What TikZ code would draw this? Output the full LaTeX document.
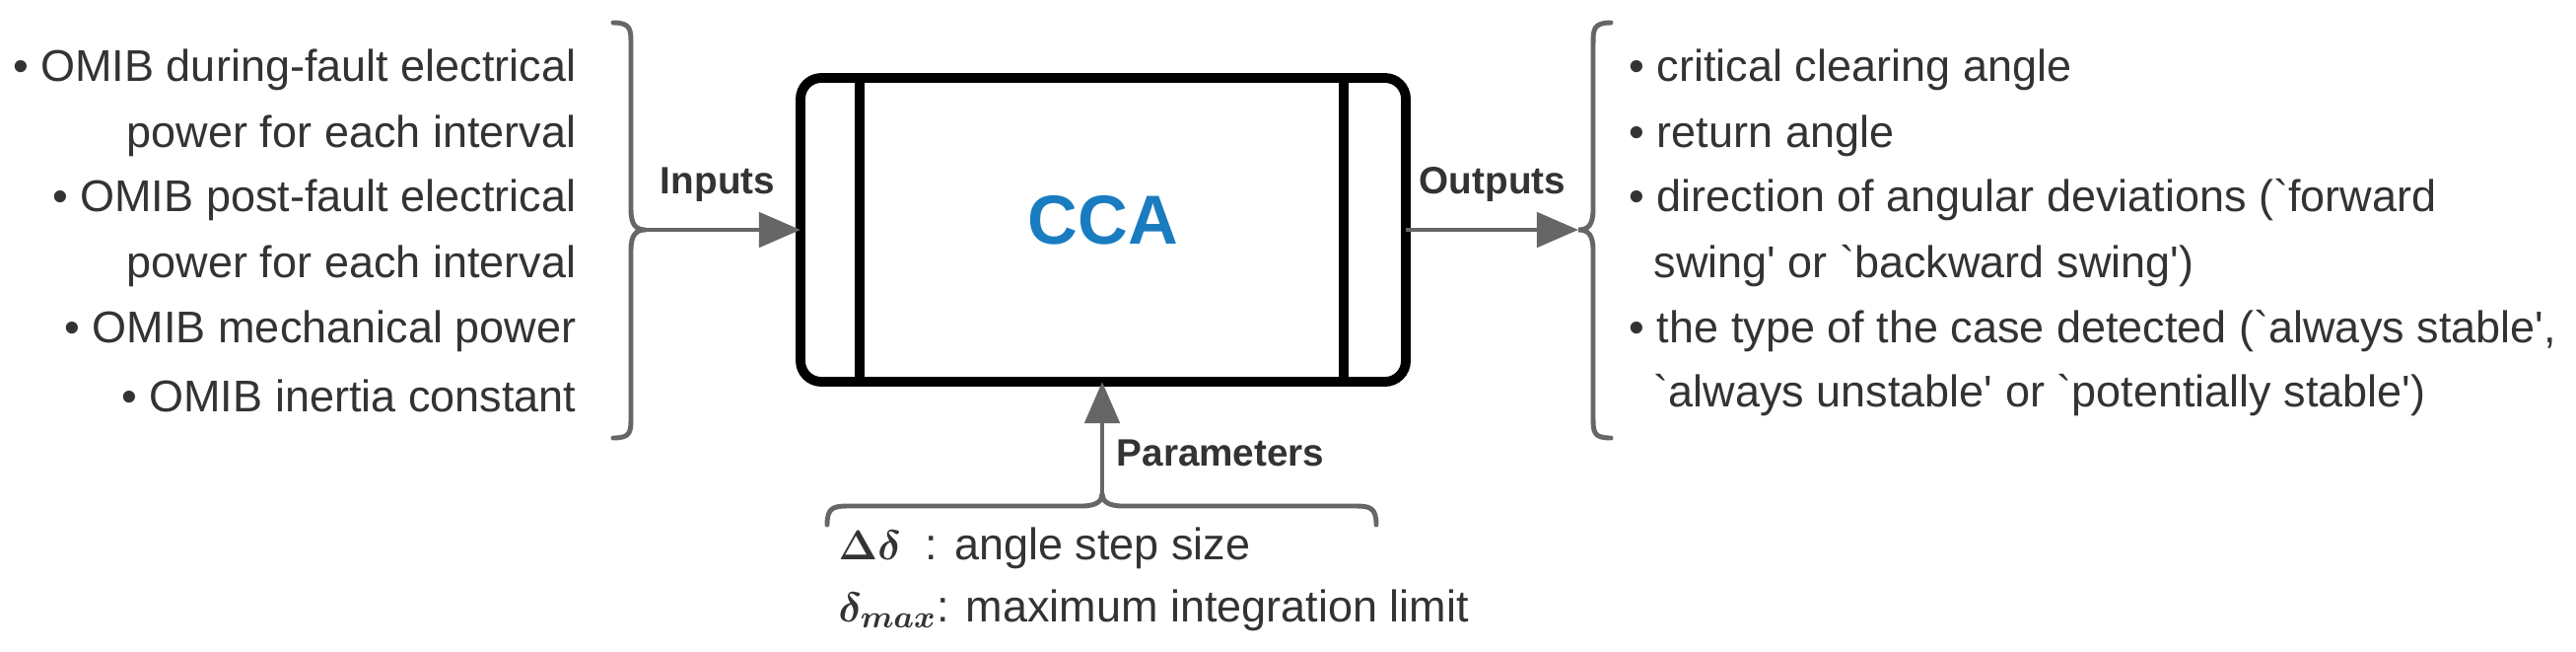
\documentclass[tikz,border=0pt]{standalone}
\usepackage{amsmath}
\usepackage{fontspec}
\setmainfont{Liberation Sans}
\usetikzlibrary{arrows.meta}
\definecolor{txt}{HTML}{333333}
\definecolor{gr}{HTML}{666666}
\definecolor{blu}{HTML}{1A7CC0}
\newcommand{\gq}{\textasciigrave}
\newcommand{\sq}{\textquotesingle}
\begin{document}
\begin{tikzpicture}[x=0.01cm,y=-0.01cm,
  lt/.style={anchor=east,inner sep=0pt,text=txt,font=\fontsize{12.8pt}{15pt}\selectfont},
  rt/.style={anchor=west,inner sep=0pt,text=txt,font=\fontsize{12.8pt}{15pt}\selectfont},
  lab/.style={inner sep=0pt,text=txt,font=\fontsize{11pt}{13pt}\selectfont\bfseries},
  brace/.style={draw=gr,line width=1.4pt,line cap=round},
  arr/.style={draw=gr,line width=1.4pt,-{Triangle[length=12pt,width=10pt]}}]
\useasboundingbox (0,0) rectangle (2613,660);
% box
\draw[line width=2.8pt,rounded corners=6pt] (812,79) rectangle (1426,387);
\draw[line width=2.8pt] (872,79) -- (872,387);
\draw[line width=2.8pt] (1363,79) -- (1363,387);
\node[inner sep=0pt,text=blu,font=\fontsize{20pt}{24pt}\selectfont\bfseries] (cca) at (1119,223) {CCA};
\coordinate (bl) at (812,233);
\coordinate (br) at (1426,233);
\coordinate (bb) at (1118,387);
% left texts
\node[lt] (l1) at (585,71) {\textbullet\ OMIB during-fault electrical};
\node[lt] (l2) at (585,138) {power for each interval};
\node[lt] (l3) at (585,203) {\textbullet\ OMIB post-fault electrical};
\node[lt] (l4) at (585,270) {power for each interval};
\node[lt] (l5) at (585,336) {\textbullet\ OMIB mechanical power};
\node[lt] (l6) at (585,401) {\textbullet\ OMIB inertia constant};
% left brace
\coordinate (lt) at (655,233);
\draw[brace] (622,23) .. controls (640,23) and (640,30) .. (640,45) -- (640,212)
  .. controls (640,228) and (645,233) .. (lt) .. controls (645,233) and (640,238) .. (640,254)
  -- (640,422) .. controls (640,438) and (640,444) .. (622,444);
\draw[arr] (lt) -- (bl);
\node[lab] (inp) at (728,187) {Inputs};
% right brace
\coordinate (rtip) at (1601,233);
\draw[brace] (1634,23) .. controls (1616,23) and (1616,30) .. (1616,45) -- (1616,212)
  .. controls (1616,228) and (1611,233) .. (rtip) .. controls (1611,233) and (1616,238) .. (1616,254)
  -- (1616,422) .. controls (1616,438) and (1616,444) .. (1634,444);
\draw[arr] (br) -- (rtip);
\node[lab] (outp) at (1514,187) {Outputs};
% right texts
\node[rt] (r1) at (1652,71) {\textbullet\ critical clearing angle};
\node[rt] (r2) at (1652,138) {\textbullet\ return angle};
\node[rt] (r3) at (1652,203) {\textbullet\ direction of angular deviations (\gq forward};
\node[rt] (r4) at (1677,270) {swing\sq{} or \gq backward swing\sq)};
\node[rt] (r5) at (1652,336) {\textbullet\ the type of the case detected (\gq always stable\sq,};
\node[rt] (r6) at (1677,401) {\gq always unstable\sq{} or \gq potentially stable\sq)};
% bottom brace
\coordinate (btip) at (1118,501);
\draw[brace] (839,532) .. controls (839,515) and (845,513) .. (860,513) -- (1097,513)
  .. controls (1112,513) and (1118,508) .. (btip) .. controls (1118,508) and (1124,513) .. (1139,513)
  -- (1375,513) .. controls (1390,513) and (1396,515) .. (1396,532);
\draw[arr] (btip) -- (bb);
\node[lab,anchor=west] (par) at (1132,459) {Parameters};
\node[rt] (p1) at (850,556) {$\boldsymbol{\Delta\delta}$\ \ : angle step size};
\node[rt] (p2) at (850,619) {$\boldsymbol{\delta_{max}}$: maximum integration limit};
\end{tikzpicture}
\end{document}
